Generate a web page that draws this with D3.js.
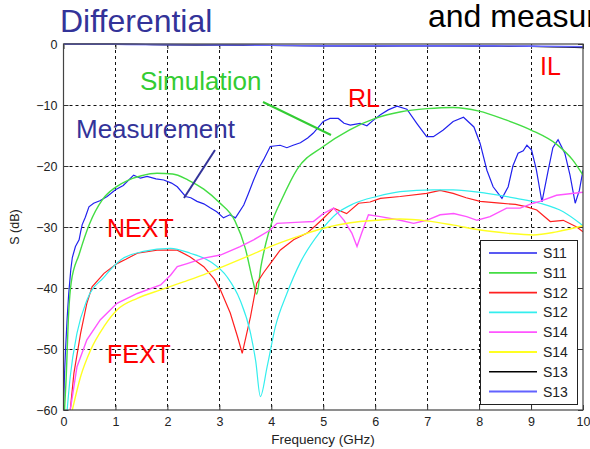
<!DOCTYPE html>
<html>
<head>
<meta charset="utf-8">
<script src="https://cdn.jsdelivr.net/npm/d3@7.9.0/dist/d3.min.js"></script>
<style>
  body { margin: 0; background: #fff; }
  svg { display: block; font-family: Arial, "Liberation Sans", sans-serif; }
  .tick text { font-size: 12.5px; fill: #222; }
</style>
</head>
<body>
<svg id="chart" width="590" height="449"></svg>
<script>
// frequency (GHz), S (dB)
const s11Meas = [[0,-60],[0.02,-54],[0.04,-50],[0.07,-45],[0.1,-41],[0.14,-37],[0.17,-35],[0.23,-33.2],[0.3,-32.1],[0.33,-30.8],[0.36,-29.6],[0.42,-28.4],[0.49,-26.7],[0.58,-26.1],[0.7,-25.7],[0.84,-25],[1.0,-23.9],[1.15,-23.2],[1.35,-21.5],[1.48,-22],[1.61,-21.7],[1.78,-22.1],[1.93,-22.3],[2.08,-22.8],[2.19,-23.4],[2.35,-25],[2.45,-25.2],[2.57,-25.8],[2.7,-26.2],[2.83,-26.9],[2.95,-27.5],[3.08,-28.5],[3.2,-28],[3.31,-28.5],[3.47,-26.4],[3.56,-24.5],[3.66,-22.3],[3.75,-20.5],[3.85,-19],[3.98,-16.8],[4.17,-16.6],[4.3,-17],[4.42,-16.6],[4.56,-16.2],[4.7,-15.4],[4.81,-14.6],[5.0,-12.7],[5.13,-12.2],[5.29,-12.2],[5.4,-13],[5.52,-13.3],[5.71,-13],[5.84,-13.4],[5.95,-12.6],[6.1,-11.6],[6.25,-10.8],[6.42,-10.2],[6.61,-10.7],[6.8,-13],[6.99,-15.2],[7.12,-15.2],[7.31,-14.1],[7.5,-12.7],[7.7,-12],[7.9,-13.6],[8.02,-16.3],[8.15,-20.7],[8.27,-23.4],[8.44,-25.3],[8.56,-23.4],[8.65,-20],[8.75,-17.9],[8.85,-17.5],[8.92,-16.6],[9.01,-17.4],[9.1,-20.5],[9.21,-25.9],[9.33,-20.7],[9.42,-17],[9.52,-15.7],[9.65,-17.9],[9.75,-21.5],[9.85,-26.1],[9.93,-24],[10,-20.7]];
const s11Sim = [[0.02,-60],[0.05,-55],[0.1,-44],[0.15,-39],[0.3,-34.5],[0.5,-29.5],[0.75,-25.5],[1,-23.5],[1.25,-22.3],[1.5,-21.6],[1.8,-21.2],[2.1,-21.3],[2.4,-22.3],[2.7,-23.8],[3.0,-26],[3.3,-29],[3.5,-33.5],[3.65,-39],[3.72,-41],[3.8,-36.5],[3.9,-32.5],[4.0,-29.5],[4.2,-25.5],[4.5,-20.5],[5,-16.8],[5.5,-14.1],[6,-12.2],[6.5,-11.1],[7,-10.6],[7.5,-10.4],[8,-11],[8.5,-12.4],[9,-14.1],[9.5,-16.5],[9.8,-19],[10,-21.5]];
const s12Meas = [[0.13,-60],[0.2,-54],[0.33,-47.4],[0.45,-42.5],[0.55,-39.8],[0.78,-37.6],[1.03,-36],[1.2,-35.3],[1.42,-34.3],[1.8,-33.8],[2.19,-33.8],[2.44,-34.9],[2.7,-36.5],[2.9,-38.5],[3.02,-40.3],[3.21,-44.1],[3.35,-48],[3.44,-50.7],[3.6,-44.7],[3.72,-39.2],[3.85,-37.5],[3.98,-36],[4.17,-33.8],[4.43,-32.1],[4.69,-31],[4.85,-29.8],[5.0,-28.6],[5.2,-26.9],[5.45,-27.8],[5.68,-26.1],[5.9,-25.9],[6.1,-25.3],[6.48,-25],[6.99,-24.5],[7.25,-24],[7.5,-24.5],[7.75,-25.2],[8.02,-25.8],[8.4,-26.1],[8.7,-26.3],[8.92,-26.7],[9.11,-27.2],[9.37,-29.1],[9.62,-28.9],[9.88,-30],[10,-30.8]];
const s12Sim = [[0.07,-60],[0.13,-54.5],[0.26,-47.4],[0.45,-42],[0.78,-38.2],[1.1,-35.4],[1.54,-34],[2.06,-33.5],[2.44,-34.3],[2.83,-35.7],[3.15,-38.2],[3.4,-42],[3.6,-47.4],[3.7,-52],[3.79,-57.8],[3.92,-52.9],[4.08,-46.3],[4.3,-40.9],[4.56,-35.8],[4.94,-30.8],[5.26,-27.8],[5.58,-26.2],[6.03,-25],[6.48,-24.2],[7.12,-23.9],[7.5,-23.9],[8.15,-24.5],[8.72,-25.3],[9.17,-26.1],[9.62,-27.5],[9.94,-29.4],[10,-29.8]];
const s14Meas = [[0.13,-60],[0.26,-52.9],[0.45,-48.5],[0.71,-45.2],[1.03,-42.5],[1.42,-40.9],[1.87,-39.5],[2.06,-37.9],[2.19,-36.5],[2.38,-36],[2.7,-35.1],[3.02,-34.6],[3.4,-33.2],[3.66,-32.1],[3.98,-30.5],[4.11,-29.4],[4.56,-29.2],[4.81,-29.1],[5.0,-27.8],[5.2,-26.9],[5.4,-28.9],[5.55,-31],[5.65,-33.2],[5.74,-31],[5.87,-28],[6.1,-28.3],[6.48,-28.9],[6.74,-29.4],[6.99,-28.9],[7.25,-28],[7.51,-27.8],[7.76,-28.3],[7.96,-28.9],[8.21,-28.3],[8.53,-26.9],[8.79,-26.9],[9.04,-26.1],[9.17,-25.8],[9.49,-24.8],[10,-24.3]];
const s14Sim = [[0.17,-60],[0.33,-54.5],[0.52,-50.2],[0.78,-46.3],[1.03,-43.6],[1.42,-41.7],[1.87,-40.3],[2.31,-39],[2.76,-37.6],[3.15,-36.2],[3.6,-34.6],[4.04,-33],[4.56,-31.4],[5,-30.2],[5.52,-29.3],[6.03,-28.9],[6.48,-28.7],[6.99,-29],[7.51,-29.7],[8.02,-30.5],[8.53,-31],[9.04,-31.3],[9.49,-30.8],[10,-29.8]];
const s13Sim = [[0,0],[1,0],[2,-0.15],[3,-0.2],[4,-0.25],[5,-0.3],[6,-0.35],[7,-0.3],[8,-0.35],[9,-0.4],[10,-0.6]];
const s13Meas = [[0,-0.05],[1,-0.05],[2,-0.1],[3,-0.15],[4,-0.2],[5,-0.3],[6,-0.3],[7,-0.3],[8,-0.3],[9,-0.35],[10,-0.45]];

const xTicks = [0, 1, 2, 3, 4, 5, 6, 7, 8, 9, 10];
const yTicks = [0, -10, -20, -30, -40, -50, -60];

const series = [
  { name: 'S11', data: s11Meas, color: '#2222ee', width: 1.2, curve: d3.curveLinear },
  { name: 'S11', data: s11Sim, color: '#44dd44', width: 1.4, curve: d3.curveMonotoneX },
  { name: 'S12', data: s12Meas, color: '#ff2020', width: 1.2, curve: d3.curveLinear },
  { name: 'S12', data: s12Sim, color: '#33eeee', width: 1.2, curve: d3.curveMonotoneX },
  { name: 'S14', data: s14Meas, color: '#ff55ff', width: 1.4, curve: d3.curveLinear },
  { name: 'S14', data: s14Sim, color: '#ffff22', width: 1.4, curve: d3.curveMonotoneX },
  { name: 'S13', data: s13Sim, color: '#000000', width: 1.2, curve: d3.curveMonotoneX },
  { name: 'S13', data: s13Meas, color: '#6262ff', width: 1.6, curve: d3.curveMonotoneX },
];

const svg = d3.select('#chart');
const pLeft = 63.5, pRight = 583, pTop = 44, pBottom = 410;

const x = d3.scaleLinear().domain([0, 10]).range([pLeft, pRight]);
const y = d3.scaleLinear().domain([-60, 0]).range([pBottom, pTop]);

svg.append('defs').append('clipPath').attr('id', 'plot')
  .append('rect').attr('x', pLeft).attr('y', pTop - 2).attr('width', pRight - pLeft).attr('height', pBottom - pTop + 2);

// dotted grid
const grid = svg.append('g').attr('stroke', '#111').attr('stroke-dasharray', '3,3').attr('stroke-width', 1);
grid.selectAll('.gx').data(xTicks.slice(1, -1)).join('line')
  .attr('x1', d => Math.round(x(d)) + 0.5).attr('x2', d => Math.round(x(d)) + 0.5)
  .attr('y1', pTop).attr('y2', pBottom);
grid.selectAll('.gy').data(yTicks.slice(1, -1)).join('line')
  .attr('y1', d => Math.round(y(d)) + 0.5).attr('y2', d => Math.round(y(d)) + 0.5)
  .attr('x1', pLeft).attr('x2', pRight);

// axes with inward ticks
svg.append('g').attr('transform', `translate(0,${pBottom})`)
  .call(d3.axisBottom(x).tickValues(xTicks).tickSize(-5).tickPadding(7).tickSizeOuter(0))
  .call(g => g.select('.domain').remove());
svg.append('g').attr('transform', `translate(${pLeft},0)`)
  .call(d3.axisLeft(y).tickValues(yTicks).tickSize(-5).tickPadding(6).tickSizeOuter(0))
  .call(g => g.select('.domain').remove());
svg.append('g').attr('transform', `translate(${pRight},0)`)
  .call(d3.axisRight(y).tickValues(yTicks).tickSize(-5).tickFormat('').tickSizeOuter(0))
  .call(g => g.select('.domain').remove());
svg.append('g').attr('transform', `translate(0,${pTop})`)
  .call(d3.axisTop(x).tickValues(xTicks).tickSize(-5).tickFormat('').tickSizeOuter(0))
  .call(g => g.select('.domain').remove());
svg.selectAll('.tick line').attr('stroke', '#333');

// curves
const line = d3.line().x(d => x(d[0])).y(d => y(d[1]));
const plot = svg.append('g').attr('clip-path', 'url(#plot)');
series.forEach(s => {
  plot.append('path')
    .attr('d', line.curve(s.curve)(s.data))
    .attr('fill', 'none')
    .attr('stroke', s.color)
    .attr('stroke-width', s.width);
});

// frame
svg.append('rect')
  .attr('x', pLeft).attr('y', pTop).attr('width', pRight - pLeft).attr('height', pBottom - pTop)
  .attr('fill', 'none').attr('stroke', '#444').attr('stroke-width', 1.2);

// legend
const lg = svg.append('g');
lg.append('rect').attr('x', 480.5).attr('y', 240.5).attr('width', 97).attr('height', 164)
  .attr('fill', '#fff').attr('stroke', '#222');
series.forEach((s, i) => {
  const ly = 253 + i * 19.8;
  lg.append('line').attr('x1', 489).attr('x2', 537).attr('y1', ly).attr('y2', ly)
    .attr('stroke', s.color).attr('stroke-width', s.width + 0.4);
  lg.append('text').attr('x', 543).attr('y', ly).attr('dy', '0.36em')
    .attr('font-size', 14).attr('fill', '#222').text(s.name);
});

// axis labels
svg.append('text').attr('x', 323).attr('y', 444).attr('text-anchor', 'middle')
  .attr('font-size', 13.5).attr('fill', '#222').text('Frequency (GHz)');
svg.append('text').attr('transform', 'translate(19,227) rotate(-90)').attr('text-anchor', 'middle')
  .attr('font-size', 12.5).attr('fill', '#222').text('S (dB)');

// slide annotations
const note = (txt, px, py, size, color) => svg.append('text')
  .attr('x', px).attr('y', py).attr('font-size', size).attr('fill', color).text(txt);
note('Differential', 60, 32, 32, '#333399');
note('and measurement', 428, 27, 32, '#000');
note('Simulation', 140, 90, 26, '#33cc33');
note('Measurement', 76, 138, 26, '#333399');
note('RL', 348, 107, 25, '#ff0000');
note('IL', 540, 75, 25, '#ff0000');
note('NEXT', 107, 237, 25, '#ff0000');
note('FEXT', 107, 363, 25, '#ff0000');

svg.append('line').attr('x1', 263).attr('y1', 102).attr('x2', 331).attr('y2', 135)
  .attr('stroke', '#33cc33').attr('stroke-width', 2);
svg.append('line').attr('x1', 215).attr('y1', 150).attr('x2', 184).attr('y2', 198)
  .attr('stroke', '#333399').attr('stroke-width', 2);
</script>
</body>
</html>
